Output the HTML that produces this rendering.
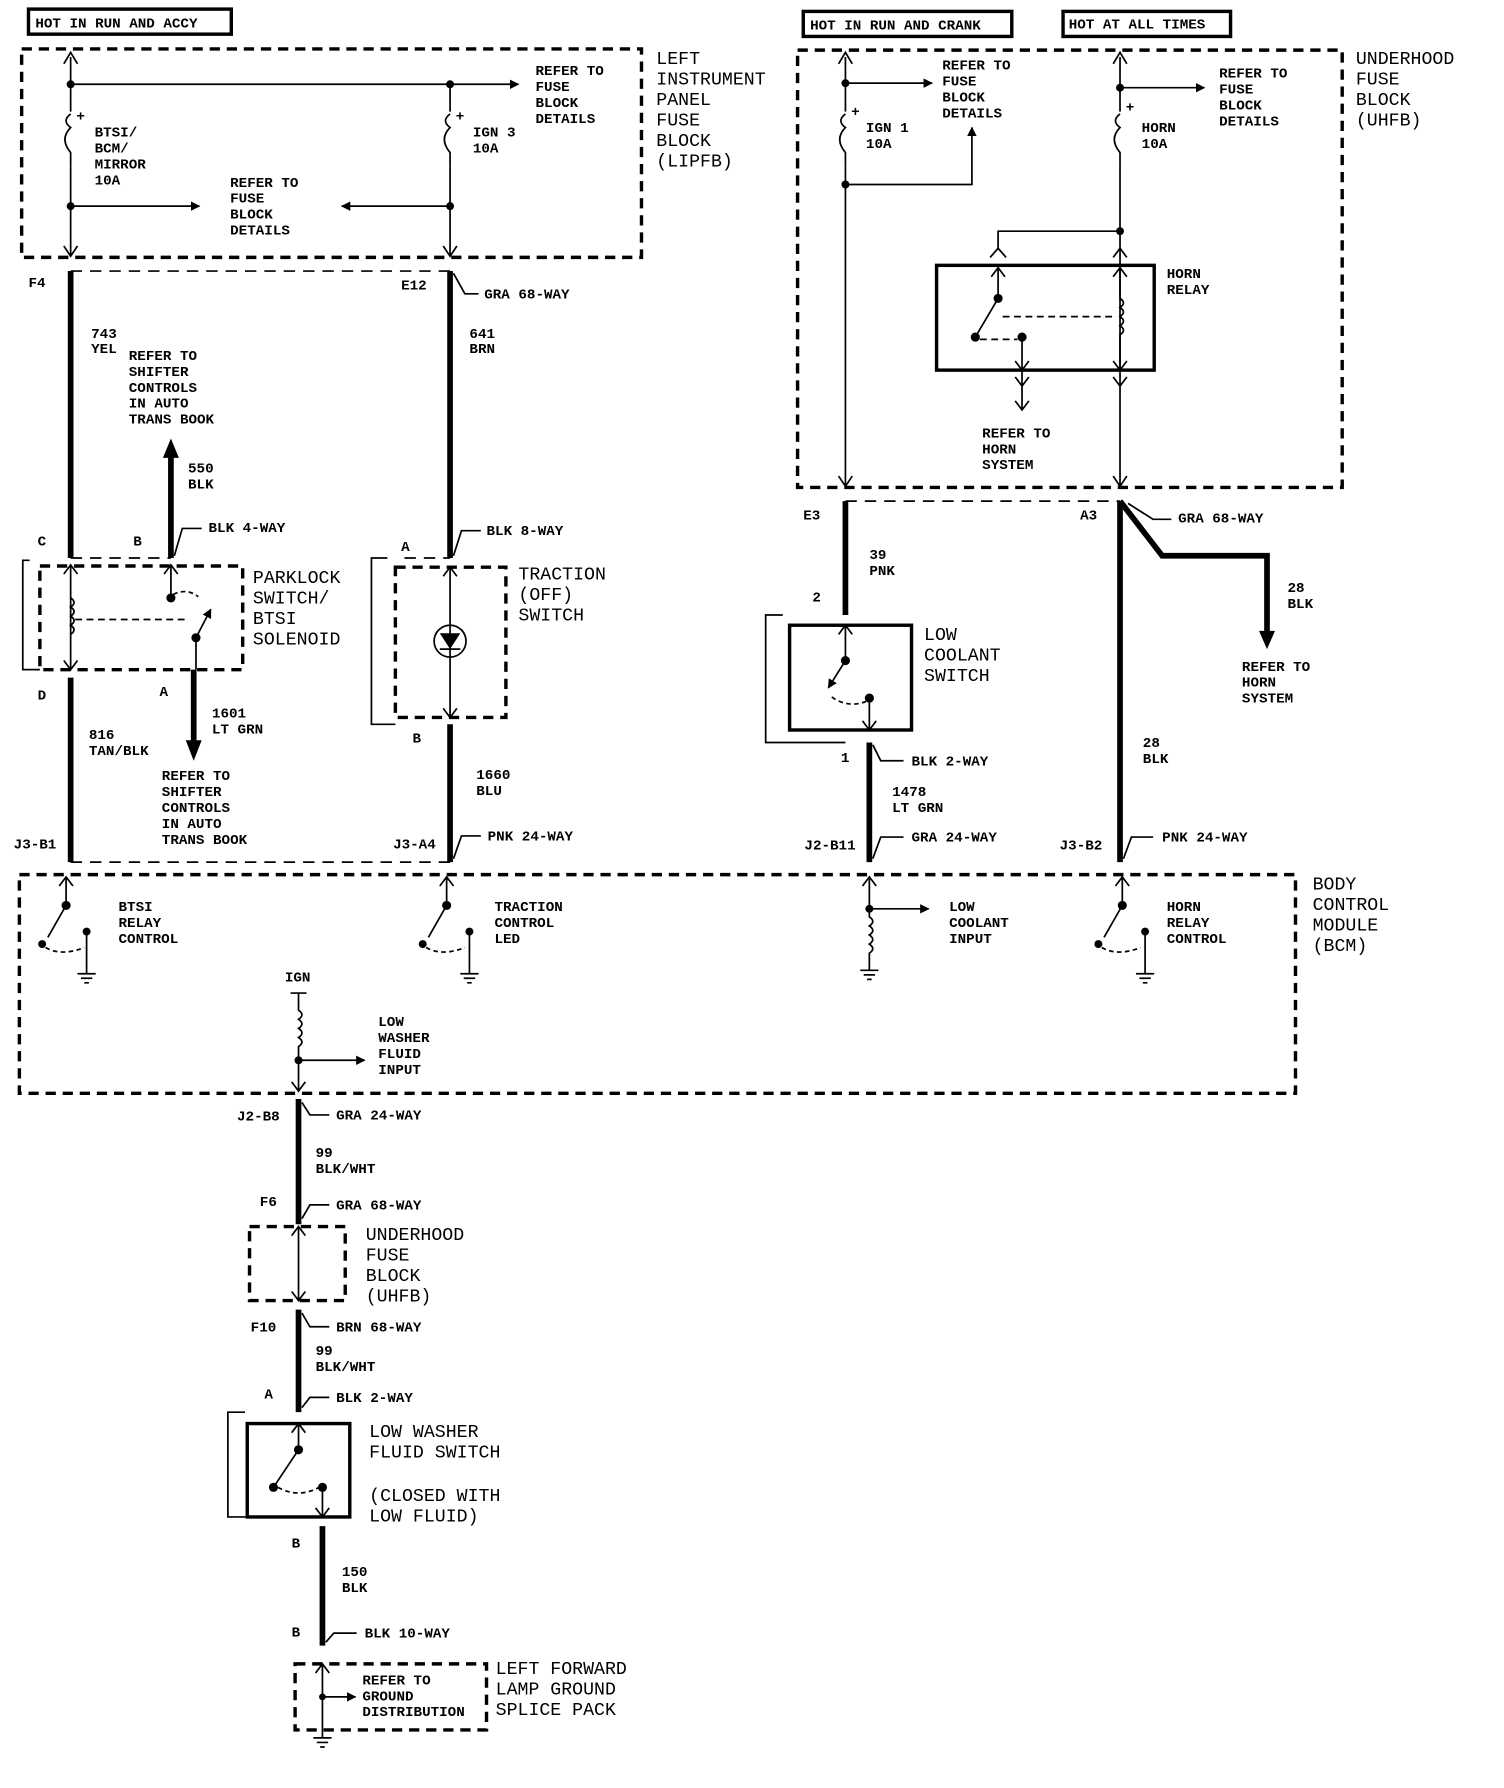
<!DOCTYPE html>
<html><head><meta charset="utf-8"><style>
html,body{margin:0;padding:0;background:#fff}
svg{display:block}
text{font-family:"Liberation Mono","DejaVu Sans Mono",monospace;fill:#000}
.s{font-size:12.5px;font-weight:bold}
.b{font-size:16px}
.t{stroke:#000;stroke-width:1.5;fill:none}
.k{stroke:#000;stroke-width:5;fill:none}
.d{stroke:#000;stroke-width:3;fill:none;stroke-dasharray:9 6}
.dt{stroke:#000;stroke-width:1.5;fill:none;stroke-dasharray:10 7}
.r{stroke:#000;stroke-width:1.5;fill:none}
.R{stroke:#000;stroke-width:3;fill:none}
</style></head><body>
<svg width="1504" height="1788" viewBox="0 0 1320 1570" preserveAspectRatio="none" xmlns="http://www.w3.org/2000/svg">
<defs>
<marker id="ah" viewBox="0 0 10 10" refX="9" refY="5" markerWidth="7" markerHeight="7" orient="auto"><path d="M0,0 L10,5 L0,10 z" fill="#000"/></marker>
<marker id="ahb" viewBox="0 0 10 10" refX="9" refY="5" markerWidth="5.5" markerHeight="5.5" orient="auto"><path d="M0,0 L10,5 L0,10 z" fill="#000"/></marker>
</defs>
<!-- header boxes -->
<rect x="25" y="8" width="178" height="22" class="R" stroke-width="2"/>
<text x="31" y="24" class="s">HOT IN RUN AND ACCY</text>
<rect x="705" y="10" width="183" height="22" class="R" stroke-width="2"/>
<text x="711" y="26" class="s">HOT IN RUN AND CRANK</text>
<rect x="933" y="10" width="147" height="22" class="R" stroke-width="2"/>
<text x="938" y="25" class="s">HOT AT ALL TIMES</text>

<!-- LIPFB -->
<rect x="19" y="43" width="544" height="183" class="d"/>
<text class="b"><tspan x="576" y="56">LEFT</tspan><tspan x="576" y="74">INSTRUMENT</tspan><tspan x="576" y="92">PANEL</tspan><tspan x="576" y="110">FUSE</tspan><tspan x="576" y="128">BLOCK</tspan><tspan x="576" y="146">(LIPFB)</tspan></text>
<path class="t" d="M62,50 V98 M62,146 V224 M56,56 L62,46 L68,56 M56,216 L62,225 L68,216"/>
<path class="t" d="M62,100 q-8,6 0,12 q-10,10 0,22 V146"/>
<path class="t" d="M395,74 V98 M395,146 V224 M389,216 L395,225 L401,216"/>
<path class="t" d="M395,100 q-8,6 0,12 q-10,10 0,22 V146"/>
<path class="t" stroke-width="2.5" d="M62,74 H455" marker-end="url(#ahb)"/>
<circle cx="62" cy="74" r="3.5"/><circle cx="395" cy="74" r="3.5"/>
<circle cx="62" cy="181" r="3.5"/><circle cx="395" cy="181" r="3.5"/>
<path class="t" stroke-width="2.5" d="M62,181 H175" marker-end="url(#ahb)"/>
<path class="t" stroke-width="2.5" d="M395,181 H300" marker-end="url(#ahb)"/>
<text x="67" y="106" class="s" font-size="10">+</text><text x="400" y="106" class="s" font-size="10">+</text>
<text class="s"><tspan x="83" y="120">BTSI/</tspan><tspan x="83" y="134">BCM/</tspan><tspan x="83" y="148">MIRROR</tspan><tspan x="83" y="162">10A</tspan></text>
<text class="s"><tspan x="415" y="120">IGN 3</tspan><tspan x="415" y="134">10A</tspan></text>
<text class="s"><tspan x="470" y="66">REFER TO</tspan><tspan x="470" y="80">FUSE</tspan><tspan x="470" y="94">BLOCK</tspan><tspan x="470" y="108">DETAILS</tspan></text>
<text class="s"><tspan x="202" y="164">REFER TO</tspan><tspan x="202" y="178">FUSE</tspan><tspan x="202" y="192">BLOCK</tspan><tspan x="202" y="206">DETAILS</tspan></text>

<!-- left wires -->
<path class="dt" d="M62,238 H395"/>
<path class="k" d="M62,238 V490"/>
<path class="k" d="M395,238 V490"/>
<text x="25" y="252" class="s">F4</text>
<text x="352" y="254" class="s">E12</text>
<path class="t" d="M398,240 L408,258 H420"/><text x="425" y="262" class="s">GRA 68-WAY</text>
<text class="s"><tspan x="80" y="297">743</tspan><tspan x="80" y="310">YEL</tspan></text>
<text class="s"><tspan x="113" y="316">REFER TO</tspan><tspan x="113" y="330">SHIFTER</tspan><tspan x="113" y="344">CONTROLS</tspan><tspan x="113" y="358">IN AUTO</tspan><tspan x="113" y="372">TRANS BOOK</tspan></text>
<text class="s"><tspan x="412" y="297">641</tspan><tspan x="412" y="310">BRN</tspan></text>
<path class="k" d="M150,490 V400"/><path d="M143,402 L150,385 L157,402 z"/>
<text class="s"><tspan x="165" y="415">550</tspan><tspan x="165" y="429">BLK</tspan></text>
<path class="t" d="M153,488 L160,464 H177"/><text x="183" y="467" class="s">BLK 4-WAY</text>
<path class="t" d="M398,488 L405,466 H422"/><text x="427" y="470" class="s">BLK 8-WAY</text>
<text x="33" y="479" class="s">C</text><text x="117" y="479" class="s">B</text><text x="352" y="484" class="s">A</text>
<path class="dt" d="M62,490 H150 M355,490 H395"/>

<!-- parklock -->
<path class="r" d="M26,492 H20 V588 H35"/>
<rect x="35" y="497" width="178" height="91" class="d"/>
<path class="t" d="M62,497 V588 M56,504 L62,496 L68,504 M56,580 L62,588 L68,580"/>
<path class="t" d="M62,525 q6,4 0,8 q6,4 0,8 q6,4 0,8 q6,4 0,8"/>
<path class="t" stroke-dasharray="6 4" d="M66,544 H165"/>
<path class="t" d="M150,497 V525 M144,504 L150,496 L156,504"/>
<circle cx="150" cy="525" r="4"/><circle cx="172" cy="560" r="4"/>
<path class="t" stroke-width="2.5" d="M172,560 L185,535" marker-end="url(#ahb)"/>
<path class="t" stroke-dasharray="4 3" d="M152,522 q12,-6 22,2"/>
<path class="t" d="M172,560 V588"/>
<text class="b"><tspan x="222" y="512">PARKLOCK</tspan><tspan x="222" y="530">SWITCH/</tspan><tspan x="222" y="548">BTSI</tspan><tspan x="222" y="566">SOLENOID</tspan></text>

<!-- traction -->
<path class="r" d="M340,490 H326 V636 H347"/>
<rect x="347" y="498" width="97" height="132" class="d"/>
<path class="t" d="M395,498 V630 M389,506 L395,498 L401,506 M389,622 L395,630 L401,622"/>
<circle cx="395" cy="563" r="14" class="t" stroke-width="2"/>
<path d="M386,556 H404 L395,570 z"/><path class="t" stroke-width="2" d="M386,570 H404"/>
<text class="b"><tspan x="455" y="509">TRACTION</tspan><tspan x="455" y="527">(OFF)</tspan><tspan x="455" y="545">SWITCH</tspan></text>

<!-- below parklock -->
<text x="33" y="614" class="s">D</text><text x="140" y="611" class="s">A</text>
<path class="k" d="M62,595 V757"/>
<path class="k" d="M170,588 V652"/><path d="M163,650 L170,668 L177,650 z"/>
<text class="s"><tspan x="186" y="630">1601</tspan><tspan x="186" y="644">LT GRN</tspan></text>
<text class="s"><tspan x="78" y="649">816</tspan><tspan x="78" y="663">TAN/BLK</tspan></text>
<text class="s"><tspan x="142" y="685">REFER TO</tspan><tspan x="142" y="699">SHIFTER</tspan><tspan x="142" y="713">CONTROLS</tspan><tspan x="142" y="727">IN AUTO</tspan><tspan x="142" y="741">TRANS BOOK</tspan></text>
<text x="362" y="652" class="s">B</text>
<path class="k" d="M395,636 V757"/>
<text class="s"><tspan x="418" y="684">1660</tspan><tspan x="418" y="698">BLU</tspan></text>
<text x="12" y="745" class="s">J3-B1</text><text x="345" y="745" class="s">J3-A4</text>
<path class="t" d="M398,754 L405,734 H422"/><text x="428" y="738" class="s">PNK 24-WAY</text>
<path class="dt" d="M62,757 H395"/>

<!-- UHFB -->
<rect x="700" y="44" width="478" height="384" class="d"/>
<text class="b"><tspan x="1190" y="56">UNDERHOOD</tspan><tspan x="1190" y="74">FUSE</tspan><tspan x="1190" y="92">BLOCK</tspan><tspan x="1190" y="110">(UHFB)</tspan></text>
<path class="t" d="M742,50 V98 M742,146 V426 M736,56 L742,46 L748,56 M736,418 L742,427 L748,418"/>
<path class="t" d="M742,100 q-8,6 0,12 q-10,10 0,22 V146"/>
<circle cx="742" cy="73" r="3.5"/><circle cx="742" cy="162" r="3.5"/>
<path class="t" stroke-width="2" d="M742,73 H818" marker-end="url(#ahb)"/>
<path class="t" stroke-width="2.5" d="M742,162 H853 V112" marker-end="url(#ahb)"/>
<text x="747" y="102" class="s" font-size="10">+</text>
<text class="s"><tspan x="760" y="116">IGN 1</tspan><tspan x="760" y="130">10A</tspan></text>
<text class="s"><tspan x="827" y="61">REFER TO</tspan><tspan x="827" y="75">FUSE</tspan><tspan x="827" y="89">BLOCK</tspan><tspan x="827" y="103">DETAILS</tspan></text>
<path class="t" d="M983,50 V98 M983,146 V426 M977,56 L983,46 L989,56 M977,418 L983,427 L989,418"/>
<path class="t" d="M983,100 q-8,6 0,12 q-10,10 0,22 V146"/>
<circle cx="983" cy="77" r="3.5"/><circle cx="983" cy="203" r="3.5"/>
<path class="t" stroke-width="2" d="M983,77 H1057" marker-end="url(#ahb)"/>
<text x="988" y="98" class="s" font-size="10">+</text>
<text class="s"><tspan x="1002" y="116">HORN</tspan><tspan x="1002" y="130">10A</tspan></text>
<text class="s"><tspan x="1070" y="68">REFER TO</tspan><tspan x="1070" y="82">FUSE</tspan><tspan x="1070" y="96">BLOCK</tspan><tspan x="1070" y="110">DETAILS</tspan></text>
<path class="t" stroke-width="2" d="M983,203 H876 V218 M869,226 L876,218 L883,226 M977,226 L983,218 L989,226"/>
<rect x="822" y="233" width="191" height="92" class="R"/>
<text class="s"><tspan x="1024" y="244">HORN</tspan><tspan x="1024" y="258">RELAY</tspan></text>
<path class="t" d="M876,235 V262 M870,243 L876,235 L882,243"/>
<circle cx="876" cy="262" r="4"/><circle cx="856" cy="296" r="4"/><circle cx="897" cy="296" r="4"/>
<path class="t" stroke-width="2.5" d="M876,262 L856,296"/>
<path class="t" stroke-dasharray="6 4" d="M880,278 H980 M860,298 H893"/>
<path class="t" d="M897,296 V360 M891,317 L897,325 L903,317 M891,331 L897,339 L903,331 M891,352 L897,360 L903,352"/>
<path class="t" d="M983,235 V262 q6,4 0,8 q6,4 0,8 q6,4 0,8 q6,4 0,8 V325 M977,243 L983,235 L989,243 M977,317 L983,325 L989,317 M977,331 L983,339 L989,331"/>
<text class="s"><tspan x="862" y="384">REFER TO</tspan><tspan x="862" y="398">HORN</tspan><tspan x="862" y="412">SYSTEM</tspan></text>

<!-- below UHFB -->
<path class="dt" d="M742,440 H983"/>
<text x="705" y="456" class="s">E3</text><text x="948" y="456" class="s">A3</text>
<path class="t" d="M990,442 L1012,456 H1028"/><text x="1034" y="459" class="s">GRA 68-WAY</text>
<path class="k" d="M742,440 V540"/>
<text class="s"><tspan x="763" y="491">39</tspan><tspan x="763" y="505">PNK</tspan></text>
<text x="713" y="528" class="s">2</text>
<path class="k" d="M983,440 L1020,488 H1112 V556"/><path d="M1105,554 L1112,570 L1119,554 z"/>
<text class="s"><tspan x="1130" y="520">28</tspan><tspan x="1130" y="534">BLK</tspan></text>
<text class="s"><tspan x="1090" y="589">REFER TO</tspan><tspan x="1090" y="603">HORN</tspan><tspan x="1090" y="617">SYSTEM</tspan></text>
<path class="k" d="M983,440 V757"/>
<text class="s"><tspan x="1003" y="656">28</tspan><tspan x="1003" y="670">BLK</tspan></text>
<text x="930" y="746" class="s">J3-B2</text>
<path class="t" d="M986,754 L993,735 H1012"/><text x="1020" y="739" class="s">PNK 24-WAY</text>

<!-- low coolant -->
<path class="r" d="M687,540 H672 V652 H742"/>
<rect x="693" y="549" width="107" height="92" class="R"/>
<path class="t" d="M742,549 V580 M736,557 L742,549 L748,557"/>
<circle cx="742" cy="580" r="4"/><circle cx="763" cy="613" r="4"/>
<path class="t" stroke-width="2.5" d="M742,580 L727,604" marker-end="url(#ahb)"/>
<path class="t" stroke-dasharray="4 3" d="M730,612 q14,10 30,4"/>
<path class="t" d="M763,613 V641 M757,633 L763,641 L769,633"/>
<text class="b"><tspan x="811" y="562">LOW</tspan><tspan x="811" y="580">COOLANT</tspan><tspan x="811" y="598">SWITCH</tspan></text>
<text x="738" y="669" class="s">1</text>
<path class="k" d="M763,652 V757"/>
<path class="t" d="M766,654 L773,668 H793"/><text x="800" y="672" class="s">BLK 2-WAY</text>
<text class="s"><tspan x="783" y="699">1478</tspan><tspan x="783" y="713">LT GRN</tspan></text>
<text x="706" y="746" class="s">J2-B11</text>
<path class="t" d="M766,754 L773,735 H793"/><text x="800" y="739" class="s">GRA 24-WAY</text>

<!-- BCM -->
<rect x="17" y="768" width="1120" height="192" class="d"/>
<text class="b"><tspan x="1152" y="781">BODY</tspan><tspan x="1152" y="799">CONTROL</tspan><tspan x="1152" y="817">MODULE</tspan><tspan x="1152" y="835">(BCM)</tspan></text>
<g>
<path class="t" d="M58,770 V795 M52,778 L58,770 L64,778 M76,818 V855"/>
<circle cx="58" cy="795" r="4"/><circle cx="37" cy="829" r="3.5"/><circle cx="76" cy="818" r="3.5"/>
<path class="t" stroke-width="2.5" d="M58,795 L42,823"/>
<path class="t" stroke-dasharray="4 3" d="M40,832 q14,8 34,0"/>
<path class="t" d="M68,855 H84 M71,859 H81 M74,863 H78"/>
<text class="s"><tspan x="104" y="800">BTSI</tspan><tspan x="104" y="814">RELAY</tspan><tspan x="104" y="828">CONTROL</tspan></text>
</g>
<g>
<path class="t" d="M392,770 V795 M386,778 L392,770 L398,778 M412,818 V855"/>
<circle cx="392" cy="795" r="4"/><circle cx="371" cy="829" r="3.5"/><circle cx="412" cy="818" r="3.5"/>
<path class="t" stroke-width="2.5" d="M392,795 L376,823"/>
<path class="t" stroke-dasharray="4 3" d="M374,832 q14,8 34,0"/>
<path class="t" d="M404,855 H420 M407,859 H417 M410,863 H414"/>
<text class="s"><tspan x="434" y="800">TRACTION</tspan><tspan x="434" y="814">CONTROL</tspan><tspan x="434" y="828">LED</tspan></text>
</g>
<g>
<path class="t" d="M763,770 V805 q6,4 0,8 q6,4 0,8 q6,4 0,8 q6,4 0,8 V852 M757,778 L763,770 L769,778 M755,852 H771 M758,856 H768 M761,860 H765"/>
<circle cx="763" cy="798" r="3.5"/>
<path class="t" stroke-width="2.5" d="M763,798 H815" marker-end="url(#ahb)"/>
<text class="s"><tspan x="833" y="800">LOW</tspan><tspan x="833" y="814">COOLANT</tspan><tspan x="833" y="828">INPUT</tspan></text>
</g>
<g>
<path class="t" d="M985,770 V795 M979,778 L985,770 L991,778 M1005,818 V855"/>
<circle cx="985" cy="795" r="4"/><circle cx="964" cy="829" r="3.5"/><circle cx="1005" cy="818" r="3.5"/>
<path class="t" stroke-width="2.5" d="M985,795 L969,823"/>
<path class="t" stroke-dasharray="4 3" d="M967,832 q14,8 34,0"/>
<path class="t" d="M997,855 H1013 M1000,859 H1010 M1003,863 H1007"/>
<text class="s"><tspan x="1024" y="800">HORN</tspan><tspan x="1024" y="814">RELAY</tspan><tspan x="1024" y="828">CONTROL</tspan></text>
</g>
<text x="250" y="862" class="s">IGN</text>
<path class="t" d="M255,872 H269 M262,872 V887 q6,4 0,8 q6,4 0,8 q6,4 0,8 q6,4 0,8 V958 M256,950 L262,958 L268,950"/>
<circle cx="262" cy="931" r="3.5"/>
<path class="t" stroke-width="2.5" d="M262,931 H320" marker-end="url(#ahb)"/>
<text class="s"><tspan x="332" y="901">LOW</tspan><tspan x="332" y="915">WASHER</tspan><tspan x="332" y="929">FLUID</tspan><tspan x="332" y="943">INPUT</tspan></text>

<!-- lower chain -->
<path class="k" d="M262,965 V1075"/>
<text x="208" y="984" class="s">J2-B8</text>
<path class="t" d="M265,968 L272,979 H289"/><text x="295" y="983" class="s">GRA 24-WAY</text>
<text class="s"><tspan x="277" y="1016">99</tspan><tspan x="277" y="1030">BLK/WHT</tspan></text>
<text x="228" y="1059" class="s">F6</text>
<path class="t" d="M265,1070 L272,1058 H289"/><text x="295" y="1062" class="s">GRA 68-WAY</text>
<rect x="219" y="1077" width="84" height="65" class="d"/>
<path class="t" d="M262,1077 V1142 M256,1085 L262,1077 L268,1085 M256,1134 L262,1142 L268,1134"/>
<text class="b"><tspan x="321" y="1089">UNDERHOOD</tspan><tspan x="321" y="1107">FUSE</tspan><tspan x="321" y="1125">BLOCK</tspan><tspan x="321" y="1143">(UHFB)</tspan></text>
<path class="k" d="M262,1150 V1240"/>
<text x="220" y="1169" class="s">F10</text>
<path class="t" d="M265,1153 L272,1165 H289"/><text x="295" y="1169" class="s">BRN 68-WAY</text>
<text class="s"><tspan x="277" y="1190">99</tspan><tspan x="277" y="1204">BLK/WHT</tspan></text>
<text x="232" y="1228" class="s">A</text>
<path class="t" d="M265,1236 L272,1227 H289"/><text x="295" y="1231" class="s">BLK 2-WAY</text>
<path class="r" d="M215,1240 H200 V1332 H217"/>
<rect x="217" y="1250" width="90" height="82" class="R"/>
<path class="t" d="M262,1250 V1272 M256,1258 L262,1250 L268,1258"/>
<circle cx="262" cy="1273" r="4"/><circle cx="240" cy="1306" r="4"/><circle cx="283" cy="1306" r="4"/>
<path class="t" stroke-width="2.5" d="M262,1273 L242,1303"/>
<path class="t" stroke-dasharray="4 3" d="M244,1306 q18,10 36,0"/>
<path class="t" d="M283,1306 V1332 M277,1324 L283,1332 L289,1324"/>
<text class="b"><tspan x="324" y="1262">LOW WASHER</tspan><tspan x="324" y="1280">FLUID SWITCH</tspan><tspan x="324" y="1318">(CLOSED WITH</tspan><tspan x="324" y="1336">LOW FLUID)</tspan></text>
<text x="256" y="1359" class="s">B</text>
<path class="k" d="M283,1340 V1445"/>
<text class="s"><tspan x="300" y="1384">150</tspan><tspan x="300" y="1398">BLK</tspan></text>
<text x="256" y="1437" class="s">B</text>
<path class="t" d="M286,1442 L293,1434 H313"/><text x="320" y="1438" class="s">BLK 10-WAY</text>
<rect x="259" y="1461" width="168" height="58" class="d"/>
<path class="t" d="M283,1461 V1526 M277,1469 L283,1461 L289,1469 M275,1526 H291 M278,1530 H288 M281,1534 H285"/>
<circle cx="283" cy="1490" r="3"/>
<path class="t" stroke-width="2" d="M283,1490 H312" marker-end="url(#ahb)"/>
<text class="s"><tspan x="318" y="1479">REFER TO</tspan><tspan x="318" y="1493">GROUND</tspan><tspan x="318" y="1507">DISTRIBUTION</tspan></text>
<text class="b"><tspan x="435" y="1470">LEFT FORWARD</tspan><tspan x="435" y="1488">LAMP GROUND</tspan><tspan x="435" y="1506">SPLICE PACK</tspan></text>
</svg>
</body></html>
